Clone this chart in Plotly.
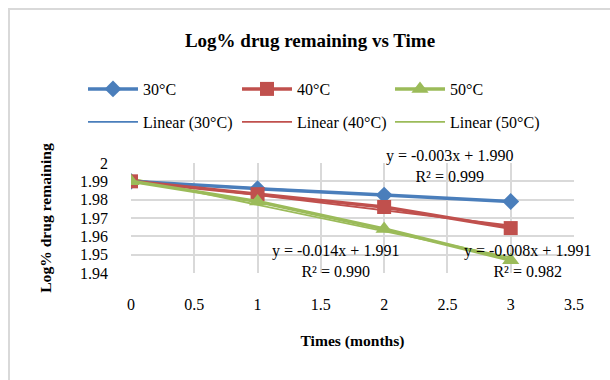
import numpy as np
import plotly.graph_objects as go

time_months = [0, 1, 2, 3]
series_names = ["30°C", "40°C", "50°C"]
log_30 = [1.990, 1.986, 1.9825, 1.979]
log_40 = [1.990, 1.983, 1.976, 1.9645]
log_50 = [1.990, 1.979, 1.964, 1.947]
colors = ["#4A7EBB", "#C0504D", "#9BBB59"]
symbols = ["diamond", "square", "triangle-up"]
marker_sizes = [13, 14, 15]
eq_texts = ["y = -0.003x + 1.990<br>R² = 0.999",
            "y = -0.008x + 1.991<br>R² = 0.982",
            "y = -0.014x + 1.991<br>R² = 0.990"]
x_ticks = [0, 0.5, 1, 1.5, 2, 2.5, 3, 3.5]
y_ticks = [1.94, 1.95, 1.96, 1.97, 1.98, 1.99, 2]

FONT = "Liberation Serif, Times New Roman, serif"
L, R, T, B = 131, 36, 163, 107
PW = 610 - L - R
PH = 380 - T - B


def px_x(p):
    return (p - L) / PW


def px_y(p):
    return (380 - B - p) / PH


fig = go.Figure()
all_series = [log_30, log_40, log_50]

# legend slots: one legend per entry, laid out as Excel's 3x2 grid
col_px = [83, 237, 390]
row_px = [89, 122]
legend_layout = {}
for i in range(6):
    key = "legend" if i == 0 else f"legend{i + 1}"
    legend_layout[key] = dict(x=px_x(col_px[i % 3]), xanchor="left",
                              y=px_y(row_px[i // 3]), yanchor="middle",
                              itemwidth=50, font=dict(size=16),
                              bgcolor="rgba(0,0,0,0)")

# trendlines (least squares fit of the data)
for i, (name, ys, c) in enumerate(zip(series_names, all_series, colors)):
    k, b = np.polyfit(time_months, ys, 1)
    xs = np.array([time_months[0], time_months[-1]])
    fig.add_trace(go.Scatter(x=xs, y=k * xs + b, mode="lines",
                             line=dict(color=c, width=1.8),
                             name=f"Linear ({name})", legend=f"legend{i + 4}"))

for i, (name, ys, c, s, ms) in enumerate(zip(series_names, all_series, colors, symbols, marker_sizes)):
    fig.add_trace(go.Scatter(x=time_months, y=ys, mode="lines+markers",
                             line=dict(color=c, width=3.5),
                             marker=dict(symbol=s, size=ms, color=c),
                             name=name, legend="legend" if i == 0 else f"legend{i + 1}"))

# trendline equation labels
ann_pos = [(2.515, 1.9985), (3.135, 1.9465), (1.615, 1.9467)]
for t, (ax, ay) in zip(eq_texts, ann_pos):
    fig.add_annotation(x=ax, y=ay, text=t, showarrow=False, xref="x", yref="y",
                       font=dict(family=FONT, size=16, color="#000000"),
                       align="center")

grid = "#D9D9D9"
fig.update_layout(
    width=610, height=380,
    margin=dict(l=L, r=R, t=T, b=B),
    paper_bgcolor="white", plot_bgcolor="white",
    font=dict(family=FONT, size=16, color="#000000"),
    title=dict(text="<b>Log% drug remaining vs Time</b>", x=310 / 610, xanchor="center",
               y=1 - 40 / 380, yanchor="middle", font=dict(size=19)),
    xaxis=dict(range=[0, 3.5], tickvals=x_ticks, showgrid=True, gridcolor=grid, gridwidth=1.5,
               zeroline=False, showline=False, ticks="", ticklabelstandoff=20,
               title=dict(text="<b>Times (months)</b>", standoff=23, font=dict(size=15.6))),
    yaxis=dict(range=[1.94, 2.0], tickvals=y_ticks, ticktext=[f"{v:g}" for v in y_ticks],
               showgrid=True, gridcolor=grid, gridwidth=1.5,
               zeroline=False, showline=False, ticks="", ticklabelstandoff=22,
               title=dict(text="<b>Log% drug remaining</b>", standoff=24, font=dict(size=15.6))),
    showlegend=True,
    **legend_layout,
)

# chart border (Excel chart area outline)
fig.add_shape(type="rect", xref="paper", yref="paper",
              x0=px_x(9), x1=px_x(640), y0=px_y(400), y1=px_y(9),
              line=dict(color="#D9D9D9", width=2), layer="below")

fig.write_html("out.html")
